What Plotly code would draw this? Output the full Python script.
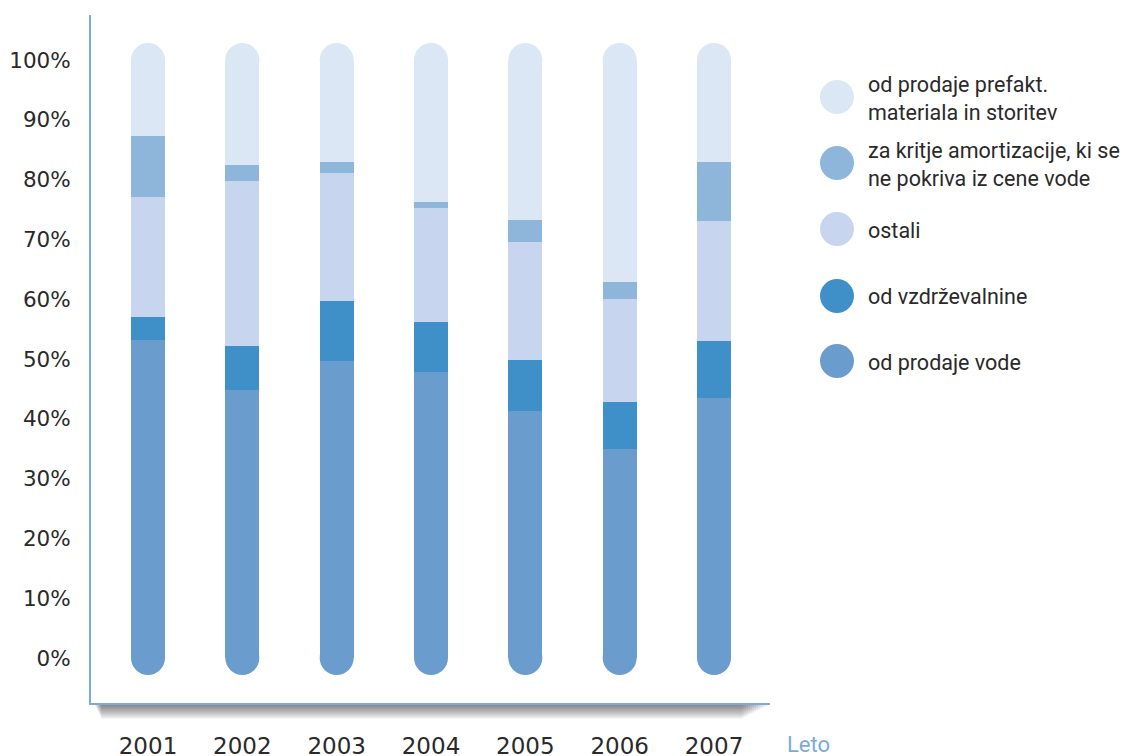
import plotly.graph_objects as go

# ---------------- data ----------------
years = ["2001", "2002", "2003", "2004", "2005", "2006", "2007"]
od_prodaje_vode = [53.2, 44.8, 49.7, 47.9, 41.3, 34.9, 43.4]
od_vzdrzevalnine = [3.9, 7.4, 10.0, 8.3, 8.6, 7.9, 9.6]
ostali = [20.0, 27.6, 21.4, 19.1, 19.7, 17.2, 20.1]
za_kritje_amortizacije = [10.2, 2.6, 1.8, 1.0, 3.6, 2.9, 9.8]
od_prodaje_prefakt = [12.7, 17.6, 17.1, 23.7, 26.8, 37.1, 17.1]

y_tick_values = [0, 10, 20, 30, 40, 50, 60, 70, 80, 90, 100]
y_tick_labels = ["0%", "10%", "20%", "30%", "40%", "50%", "60%", "70%", "80%", "90%", "100%"]

legend_labels = [
    "od prodaje prefakt.<br>materiala in storitev",
    "za kritje amortizacije, ki se<br>ne pokriva iz cene vode",
    "ostali",
    "od vzdrževalnine",
    "od prodaje vode",
]

# ---------------- style ----------------
C_VODE = "#6a9dce"
C_VZDR = "#3f8fc8"
C_OSTALI = "#c7d5ee"
C_AMORT = "#8db6da"
C_PREFAKT = "#dce7f5"
AXIS_COLOR = "#7aabdb"
TEXT_COLOR = "#2a2a2a"

W, H = 1128, 756
ML, MR, MT, MB = 91, 358, 15, 53
PW, PH = W - ML - MR, H - MT - MB


def px_x(px):
    return (px - ML) / PW


def px_y(py):
    return (H - MB - py) / PH


series = [
    ("od prodaje vode", od_prodaje_vode, C_VODE),
    ("od vzdrževalnine", od_vzdrzevalnine, C_VZDR),
    ("ostali", ostali, C_OSTALI),
    ("za kritje amortizacije", za_kritje_amortizacije, C_AMORT),
    ("od prodaje prefakt.", od_prodaje_prefakt, C_PREFAKT),
]

BAR_W = 0.36
CAP_SIZE = 34

fig = go.Figure()
for name, vals, col in series:
    fig.add_trace(go.Bar(
        x=years, y=vals, name=name, width=BAR_W,
        marker=dict(color=col, line=dict(width=0)),
        showlegend=False,
    ))

totals = [sum(v) for v in zip(*[s[1] for s in series])]

# rounded ends of the columns
fig.add_trace(go.Scatter(
    x=years, y=[0] * len(years), mode="markers",
    marker=dict(size=CAP_SIZE, color=C_VODE, line=dict(width=0)),
    showlegend=False, hoverinfo="skip",
))
fig.add_trace(go.Scatter(
    x=years, y=totals, mode="markers",
    marker=dict(size=CAP_SIZE, color=C_PREFAKT, line=dict(width=0)),
    showlegend=False, hoverinfo="skip",
))

shapes = []
# soft shadow under the x axis line
for k in range(1, 16):
    shapes.append(dict(
        type="rect", xref="paper", yref="paper",
        x0=px_x(94 + k * 0.5), x1=px_x(772 - k * 2.0),
        y0=px_y(704 + k), y1=px_y(704),
        fillcolor="rgba(0,0,0,0.04)", line=dict(width=0), layer="below",
    ))

# custom legend
legend_colors = [C_PREFAKT, C_AMORT, C_OSTALI, C_VZDR, C_VODE]
legend_cy = [97, 163, 229, 296, 361]
annotations = []
for lab, col, cy in zip(legend_labels, legend_colors, legend_cy):
    shapes.append(dict(
        type="circle", xref="paper", yref="paper",
        xsizemode="pixel", ysizemode="pixel",
        xanchor=px_x(837), yanchor=px_y(cy),
        x0=-17, x1=17, y0=-17, y1=17,
        fillcolor=col, line=dict(width=0),
    ))
    annotations.append(dict(
        xref="paper", yref="paper", x=px_x(866), y=px_y(cy + 1),
        xanchor="left", yanchor="middle", align="left",
        text=lab, showarrow=False,
        font=dict(family="Roboto", size=21.5, color=TEXT_COLOR),
    ))

annotations.append(dict(
    xref="paper", yref="paper", x=px_x(808), y=px_y(745),
    xanchor="center", yanchor="middle", text="Leto", showarrow=False,
    font=dict(family="Roboto", size=22, color=AXIS_COLOR),
))

n = len(years)
px_per_cat = (714 - 148) / (n - 1)
x_lo = (ML - 148) / px_per_cat
x_hi = x_lo + PW / px_per_cat

px_per_pct = (658 - 60) / 100
y_hi = 100 + (60 - MT) / px_per_pct
y_lo = y_hi - PH / px_per_pct

fig.update_layout(
    width=W, height=H, autosize=False,
    margin=dict(l=ML, r=MR, t=MT, b=MB, pad=0, autoexpand=False),
    paper_bgcolor="white", plot_bgcolor="white",
    barmode="stack",
    shapes=shapes, annotations=annotations,
    xaxis=dict(
        type="category", range=[x_lo, x_hi], automargin=False,
        showgrid=False, zeroline=False,
        showline=True, linecolor=AXIS_COLOR, linewidth=2,
        ticks="", ticklabelstandoff=21,
        tickfont=dict(family="DejaVu Sans", size=23, color=TEXT_COLOR),
    ),
    yaxis=dict(
        range=[y_lo, y_hi], automargin=False,
        tickvals=y_tick_values, ticktext=y_tick_labels,
        showgrid=False, zeroline=False,
        showline=True, linecolor=AXIS_COLOR, linewidth=2,
        ticks="", ticklabelstandoff=14,
        tickfont=dict(family="DejaVu Sans", size=21.5, color=TEXT_COLOR),
    ),
)

post = (
    "document.documentElement.style.margin='0';"
    "document.body.style.margin='0';"
    "document.body.style.overflow='hidden';"
    "var gd=document.getElementById('{plot_id}');"
    "Plotly.relayout(gd,{width:%d,height:%d});" % (W, H)
)

fig.write_html(
    "out.html",
    config={"responsive": False, "displayModeBar": False},
    default_width="%dpx" % W, default_height="%dpx" % H,
    post_script=post,
)
